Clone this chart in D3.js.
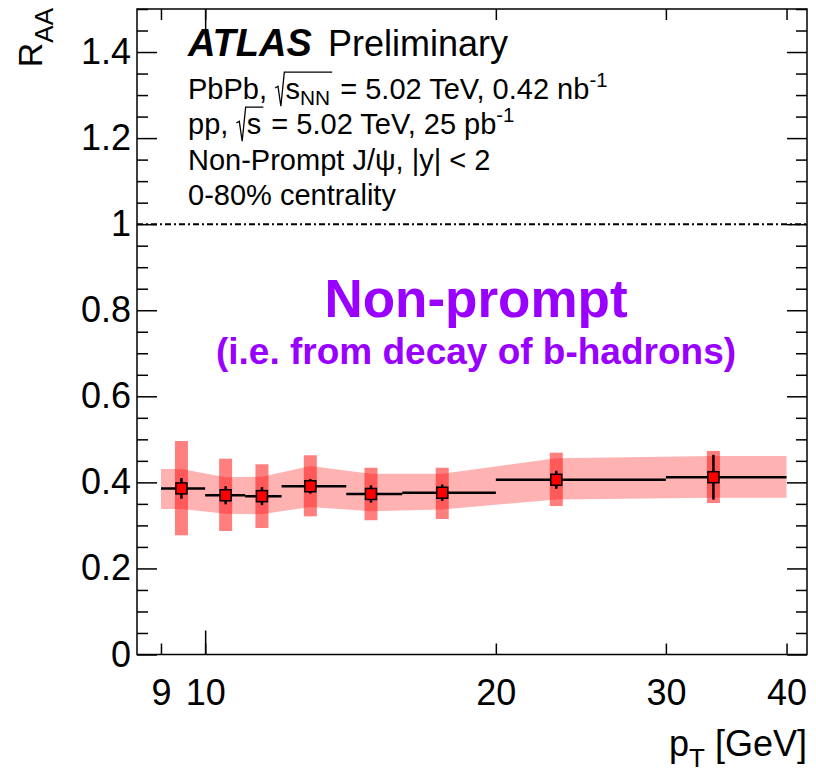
<!DOCTYPE html>
<meta charset="utf-8">
<script src="https://d3js.org/d3.v7.min.js"></script>
<style>
  body { margin: 0; background: #fff; }
  text { font-family: "Liberation Sans", Arial, Helvetica, sans-serif; fill: #000; white-space: pre; }
</style>
<div id="chart"></div>
<script>

// pT bins [GeV]
var ptLo = [9, 10, 11, 12, 14, 16, 20, 30]
var ptHi = [10, 11, 12, 14, 16, 20, 30, 40]
var ptCenter = [9.45, 10.5, 11.45, 12.85, 14.85, 17.6, 23.1, 33.6]

// R_AA with stat error
var raa = [0.386, 0.370, 0.368, 0.391, 0.373, 0.376, 0.406, 0.412]
var statErr = [0.024, 0.021, 0.021, 0.017, 0.020, 0.019, 0.021, 0.052]

// uncorrelated syst (dark boxes)
var boxHi = [0.496, 0.455, 0.442, 0.463, 0.434, 0.434, 0.469, 0.473]
var boxLo = [0.277, 0.287, 0.294, 0.321, 0.312, 0.315, 0.345, 0.352]

// correlated syst (light band)
var bandHi = [0.431, 0.412, 0.413, 0.438, 0.420, 0.420, 0.456, 0.461]
var bandLo = [0.338, 0.327, 0.326, 0.343, 0.333, 0.337, 0.360, 0.364]

var xTicks = [9, 10, 20, 30, 40]
var yTicks = [0, 0.2, 0.4, 0.6, 0.8, 1, 1.2, 1.4]

var width = 816, height = 769
// frame edges (note: "top" is reserved on window)
var fL = 137, fR = 807, fT = 9, fB = 654.5

var svg = d3.select("#chart").append("svg")
    .attr("width", width)
    .attr("height", height)

var x = d3.scaleLog().domain([8.5, 42]).range([fL, fR])
var y = d3.scaleLinear().domain([0, 1.5]).range([fB, fT])

// correlated band, flat out to the bin edges
var bandPts = [{pt: ptLo[0], lo: bandLo[0], hi: bandHi[0]}]
ptCenter.forEach(function(p, i) { bandPts.push({pt: p, lo: bandLo[i], hi: bandHi[i]}) })
bandPts.push({pt: ptHi[ptHi.length - 1], lo: bandLo[bandLo.length - 1], hi: bandHi[bandHi.length - 1]})

svg.append("path")
  .datum(bandPts)
  .attr("fill", "rgba(255,0,0,0.3)")
  .attr("d", d3.area()
    .x(function(d) { return x(d.pt) })
    .y0(function(d) { return y(d.lo) })
    .y1(function(d) { return y(d.hi) }))

// uncorrelated boxes
var boxW = 13
svg.selectAll("rect.box")
  .data(ptCenter)
  .enter().append("rect")
    .attr("class", "box")
    .attr("x", function(d) { return x(d) - boxW / 2 })
    .attr("y", function(d, i) { return y(boxHi[i]) })
    .attr("width", boxW)
    .attr("height", function(d, i) { return y(boxLo[i]) - y(boxHi[i]) })
    .attr("fill", "rgba(255,0,0,0.5)")

// unity line
svg.append("line")
  .attr("x1", fL).attr("x2", fR)
  .attr("y1", y(1)).attr("y2", y(1))
  .attr("stroke", "#000")
  .attr("stroke-width", 2)
  .attr("stroke-dasharray", "6,3,2,3")

// horizontal bin widths
svg.selectAll("line.bin")
  .data(raa)
  .enter().append("line")
    .attr("x1", function(d, i) { return x(ptLo[i]) })
    .attr("x2", function(d, i) { return x(ptHi[i]) })
    .attr("y1", function(d) { return y(d) })
    .attr("y2", function(d) { return y(d) })
    .attr("stroke", "#000")
    .attr("stroke-width", 2.5)

// stat errors
svg.selectAll("line.stat")
  .data(raa)
  .enter().append("line")
    .attr("x1", function(d, i) { return x(ptCenter[i]) })
    .attr("x2", function(d, i) { return x(ptCenter[i]) })
    .attr("y1", function(d, i) { return y(d + statErr[i]) })
    .attr("y2", function(d, i) { return y(d - statErr[i]) })
    .attr("stroke", "#000")
    .attr("stroke-width", 2.5)

// markers
var ms = 11
svg.selectAll("rect.marker")
  .data(raa)
  .enter().append("rect")
    .attr("x", function(d, i) { return x(ptCenter[i]) - ms / 2 })
    .attr("y", function(d) { return y(d) - ms / 2 })
    .attr("width", ms)
    .attr("height", ms)
    .attr("fill", "#ff0000")
    .attr("stroke", "#000")
    .attr("stroke-width", 1.5)

// axes, ROOT style ticks pointing inwards
var yMinor = d3.range(0, 1.5001, 0.05).filter(function(v) {
  return Math.abs(v / 0.2 - Math.round(v / 0.2)) > 1e-6 })

function styleAxis(g) {
  g.select(".domain").remove()
  g.selectAll("line").attr("stroke", "#000").attr("stroke-width", 1.5)
  g.selectAll("text").attr("font-size", 36).attr("font-family", null)
}

svg.append("g").attr("transform", "translate(0," + fB + ")")
  .call(d3.axisBottom(x).tickValues(xTicks).tickSize(-11).tickPadding(25).tickFormat(d3.format("d")))
  .call(styleAxis)
svg.append("g").attr("transform", "translate(0," + fB + ")")
  .call(d3.axisBottom(x).tickValues([10]).tickSize(-24).tickFormat(""))
  .call(styleAxis)
svg.append("g").attr("transform", "translate(0," + fT + ")")
  .call(d3.axisTop(x).tickValues(xTicks).tickSize(-11).tickFormat(""))
  .call(styleAxis)
svg.append("g").attr("transform", "translate(0," + fT + ")")
  .call(d3.axisTop(x).tickValues([10]).tickSize(-24).tickFormat(""))
  .call(styleAxis)

svg.append("g").attr("transform", "translate(" + fL + ",0)")
  .call(d3.axisLeft(y).tickValues(yTicks).tickSize(-20).tickPadding(6).tickFormat(d3.format("")))
  .call(styleAxis)
svg.append("g").attr("transform", "translate(" + fL + ",0)")
  .call(d3.axisLeft(y).tickValues(yMinor).tickSize(-11).tickFormat(""))
  .call(styleAxis)
svg.append("g").attr("transform", "translate(" + fR + ",0)")
  .call(d3.axisRight(y).tickValues(yTicks).tickSize(-20).tickFormat(""))
  .call(styleAxis)
svg.append("g").attr("transform", "translate(" + fR + ",0)")
  .call(d3.axisRight(y).tickValues(yMinor).tickSize(-11).tickFormat(""))
  .call(styleAxis)

// frame
svg.append("rect")
  .attr("x", fL).attr("y", fT)
  .attr("width", fR - fL).attr("height", fB - fT)
  .attr("fill", "none")
  .attr("stroke", "#000")
  .attr("stroke-width", 1.5)

// axis titles
var xt = svg.append("text")
  .attr("x", fR).attr("y", 756)
  .attr("text-anchor", "end")
  .attr("font-size", 36)
xt.append("tspan").text("p")
xt.append("tspan").attr("font-size", 26).attr("dy", 11).text("T")
xt.append("tspan").attr("dy", -11).text(" [GeV]")

var yt = svg.append("text")
  .attr("transform", "translate(42,8) rotate(-90)")
  .attr("text-anchor", "end")
  .attr("font-size", 34)
yt.append("tspan").text("R")
yt.append("tspan").attr("font-size", 26).attr("dy", 11).text("AA")

// labels written piece by piece (sub/superscripts, sqrt)
function rich(x0, y0, size, parts) {
  var cx = x0
  parts.forEach(function(p) {
    if (p.sqrt) {
      var s = size
      var start = cx
      var ix = cx + 0.36 * s
      p.sqrt.forEach(function(q) {
        var t = svg.append("text")
          .attr("x", ix).attr("y", y0 + (q.dy || 0))
          .attr("font-size", s * (q.scale || 1))
          .text(q.t)
        ix += t.node().getComputedTextLength()
      })
      ix += 2
      svg.append("path")
        .attr("d", "M" + start + "," + (y0 - 0.38 * s) +
                   "L" + (start + 0.1 * s) + "," + (y0 - 0.44 * s) +
                   "L" + (start + 0.2 * s) + "," + (y0 + 0.25 * s) +
                   "L" + (start + 0.32 * s) + "," + (y0 - 0.93 * s) +
                   "L" + ix + "," + (y0 - 0.93 * s))
        .attr("fill", "none")
        .attr("stroke", "#000")
        .attr("stroke-width", 1.3)
      cx = ix
      return
    }
    var t = svg.append("text")
      .attr("x", cx).attr("y", y0 + (p.dy || 0))
      .attr("font-size", size * (p.scale || 1))
      .text(p.t)
    cx += t.node().getComputedTextLength()
  })
}

svg.append("text")
  .attr("x", 188).attr("y", 56)
  .attr("font-size", 38)
  .attr("font-weight", "bold")
  .attr("font-style", "italic")
  .text("ATLAS")
svg.append("text")
  .attr("x", 328).attr("y", 56)
  .attr("font-size", 36)
  .text("Preliminary")

rich(188, 99, 29, [
  {t: "PbPb, "},
  {sqrt: [{t: "s"}, {t: "NN", scale: 0.72, dy: 6}]},
  {t: " = 5.02 TeV, 0.42 nb"},
  {t: "-1", scale: 0.7, dy: -12}
])
rich(188, 134, 29, [
  {t: "pp, "},
  {sqrt: [{t: "s"}]},
  {t: " = 5.02 TeV, 25 pb"},
  {t: "-1", scale: 0.7, dy: -12}
])
svg.append("text").attr("x", 188).attr("y", 170).attr("font-size", 29)
  .text("Non-Prompt J/\u03c8, |y| < 2")
svg.append("text").attr("x", 188).attr("y", 205).attr("font-size", 29)
  .text("0-80% centrality")

svg.append("text")
  .attr("x", 476).attr("y", 317)
  .attr("text-anchor", "middle")
  .attr("font-size", 53)
  .attr("font-weight", "bold")
  .style("fill", "#9900ff")
  .text("Non-prompt")
svg.append("text")
  .attr("x", 476).attr("y", 364)
  .attr("text-anchor", "middle")
  .attr("font-size", 37)
  .attr("font-weight", "bold")
  .style("fill", "#9900ff")
  .text("(i.e. from decay of b-hadrons)")

</script>
